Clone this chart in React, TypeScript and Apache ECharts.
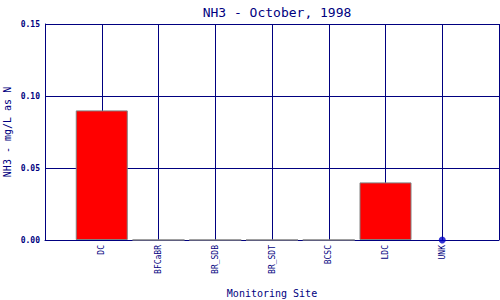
import React, { useEffect, useRef } from "react";
import * as echarts from "echarts";

const sites = ["DC", "BFCaBR", "BR_SDB", "BR_SDT", "BCSC", "LDC", "UNK"];
const nh3Values: (number | null)[] = [0.09, 0, 0, 0, 0, 0.04, null];
const yTicks = [0, 0.05, 0.1, 0.15];

const NAVY = "#000080";
const FONT = "'DejaVu Sans Mono', 'Liberation Mono', monospace";

export default function App() {
  const ref = useRef<HTMLDivElement>(null);
  useEffect(() => {
    if (!ref.current) return;
    const chart = echarts.init(ref.current, undefined, { renderer: "svg" });
    const barData = sites
      .map((s, i) => [i + 1, nh3Values[i]])
      .filter((d) => d[1] !== null);
    const missing = sites
      .map((s, i) => [i + 1, 0, nh3Values[i]])
      .filter((d) => d[2] === null)
      .map((d) => [d[0], d[1]]);
    chart.setOption({
      animation: false,
      backgroundColor: "#ffffff",
      title: {
        text: "NH3 - October, 1998",
        left: 272,
        top: 1,
        textAlign: "center",
        textStyle: { color: NAVY, fontFamily: FONT, fontSize: 13, fontWeight: "normal" },
      },
      grid: { left: 45, right: 1, top: 24, bottom: 60, outerBoundsMode: "none", containLabel: false },
      xAxis: {
        type: "value",
        min: 0,
        max: sites.length + 1,
        interval: 1,
        name: "Monitoring Site",
        nameLocation: "middle",
        nameGap: 48,
        nameMoveOverlap: false,
        nameTextStyle: { color: NAVY, fontFamily: FONT, fontSize: 10 },
        axisLine: { show: true, lineStyle: { color: NAVY, width: 1 } },
        axisTick: { show: false },
        axisLabel: {
          rotate: 90,
          margin: 5,
          color: NAVY,
          fontFamily: FONT,
          fontSize: 8,
          showMinLabel: true,
          showMaxLabel: true,
          formatter: (v: number) => sites[Math.round(v) - 1] ?? "",
        },
        splitLine: { show: true, lineStyle: { color: NAVY, width: 1 } },
      },
      yAxis: {
        type: "value",
        min: yTicks[0],
        max: yTicks[yTicks.length - 1],
        interval: 0.05,
        name: "NH3 - mg/L as N",
        nameLocation: "middle",
        nameGap: 33,
        nameMoveOverlap: false,
        nameRotate: 90,
        nameTextStyle: { color: NAVY, fontFamily: FONT, fontSize: 10 },
        axisLine: { show: true, lineStyle: { color: NAVY, width: 1 } },
        axisTick: { show: false },
        axisLabel: {
          margin: 5,
          color: NAVY,
          fontFamily: FONT,
          fontSize: 8,
          fontWeight: "bold",
          formatter: (v: number) => v.toFixed(2),
        },
        splitLine: { show: true, lineStyle: { color: NAVY, width: 1 } },
      },
      series: [
        {
          type: "bar",
          data: barData,
          barWidth: 52,
          itemStyle: { color: "#ff0000", borderColor: "#808080", borderWidth: 1 },
        },
        {
          type: "scatter",
          data: missing,
          symbol: "circle",
          symbolSize: 7,
          itemStyle: { color: "#0000c8" },
          z: 5,
        },
      ],
    });
    return () => chart.dispose();
  }, []);
  return (
    <div
      ref={ref}
      style={{ position: "fixed", left: 0, top: 0, width: 500, height: 300 }}
    />
  );
}
